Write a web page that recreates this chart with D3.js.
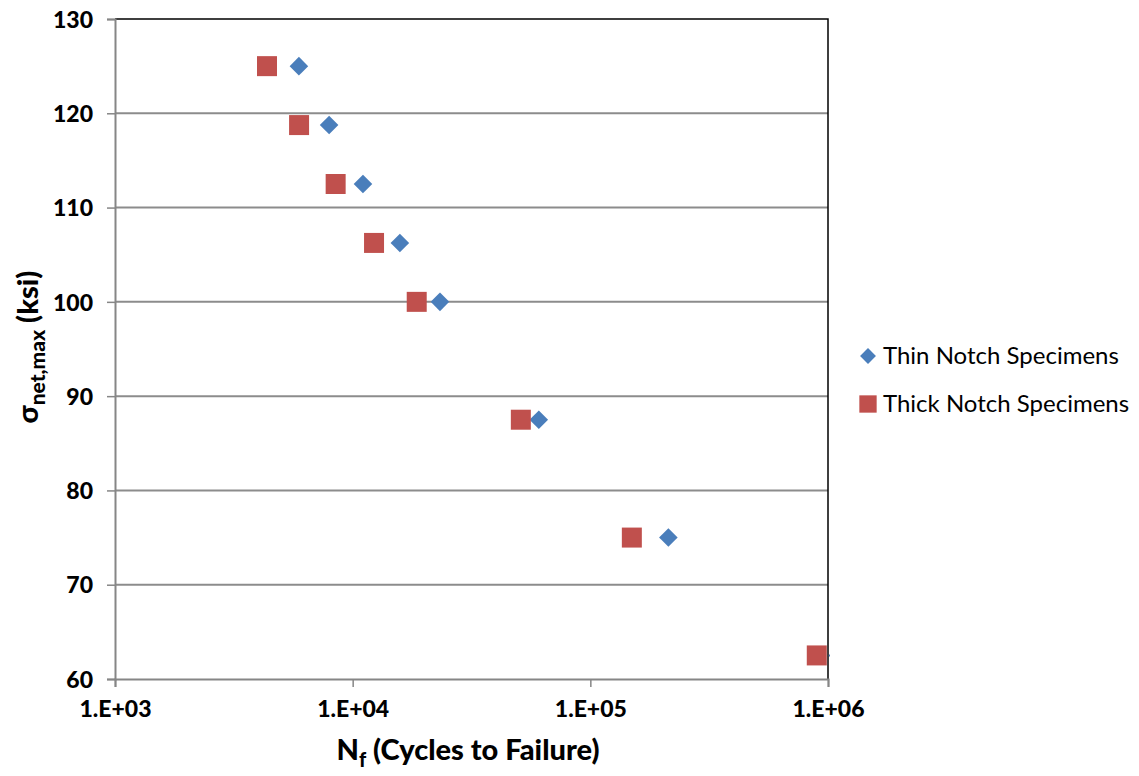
<!DOCTYPE html>
<html>
<head>
<meta charset="utf-8">
<script src="https://cdn.jsdelivr.net/npm/d3@7"></script>
<style>
  html, body { margin: 0; padding: 0; background: #fff; }
  svg { display: block; }
  text { font-family: Lato, "Open Sans", sans-serif; fill: #000; }
</style>
</head>
<body>
<svg id="chart" width="1139" height="776"></svg>
<script>
// S-N data: net maximum stress (ksi) versus cycles to failure
const stressLevels = [125, 118.75, 112.5, 106.25, 100, 87.5, 75, 62.5];
const thinCycles  = [5940, 7960, 11050, 15800, 23300, 60700, 213000, 1100000];
const thickCycles = [4360, 5950, 8480, 12300, 18600, 51000, 149500, 897000];

const xTickValues = [1e3, 1e4, 1e5, 1e6];
const xTickLabels = ["1.E+03", "1.E+04", "1.E+05", "1.E+06"];
const yTickValues = [60, 70, 80, 90, 100, 110, 120, 130];

const seriesNames = ["Thin Notch Specimens", "Thick Notch Specimens"];
const seriesColors = ["#4a7ebb", "#c0504d"];

const plot = { left: 115, right: 828, top: 19, bottom: 679 };

const svg = d3.select("#chart");

const x = d3.scaleLog().domain([1e3, 1e6]).range([plot.left, plot.right]);
const y = d3.scaleLinear().domain([60, 130]).range([plot.bottom, plot.top]);

// horizontal gridlines
svg.append("g")
  .selectAll("line")
  .data(yTickValues.filter(v => v > 60 && v < 130))
  .join("line")
  .attr("x1", plot.left).attr("x2", plot.right)
  .attr("y1", d => y(d)).attr("y2", d => y(d))
  .attr("stroke", "#8c8c8c").attr("stroke-width", 2);

// top and right frame
svg.append("path")
  .attr("d", `M${plot.left},${plot.top}H${plot.right}V${plot.bottom}`)
  .attr("fill", "none").attr("stroke", "#000").attr("stroke-width", 1.5);

// y axis
const yAxis = d3.axisLeft(y).tickValues(yTickValues).tickSize(8).tickPadding(10).tickFormat(d3.format("d"));
const gy = svg.append("g").attr("transform", `translate(${plot.left},0)`).call(yAxis);
gy.select(".domain").attr("stroke", "#868686").attr("stroke-width", 2);
gy.selectAll(".tick line").attr("stroke", "#868686").attr("stroke-width", 1.5);
gy.selectAll(".tick text")
  .style("font-size", "23px").style("font-weight", "900")
  .attr("dy", "0.36em").attr("dx", "-4");

// x axis
const xAxis = d3.axisBottom(x).tickValues(xTickValues).tickSize(8).tickPadding(14)
  .tickFormat((d, i) => xTickLabels[i]);
const gx = svg.append("g").attr("transform", `translate(0,${plot.bottom})`).call(xAxis);
gx.select(".domain").attr("stroke", "#868686").attr("stroke-width", 2);
gx.selectAll(".tick line").attr("stroke", "#868686").attr("stroke-width", 1.5);
gx.selectAll(".tick text")
  .style("font-size", "23px").style("font-weight", "900");

// clip markers to the plotting area
svg.append("clipPath").attr("id", "plotClip")
  .append("rect")
  .attr("x", plot.left).attr("y", plot.top)
  .attr("width", plot.right - plot.left + 2).attr("height", plot.bottom - plot.top);

const marks = svg.append("g").attr("clip-path", "url(#plotClip)");

const diamond = d3.symbol().type(d3.symbolDiamond2).size(220);
const square = d3.symbol().type(d3.symbolSquare).size(400);

// thin-notch specimens (diamonds)
marks.append("g")
  .selectAll("path")
  .data(stressLevels.map((s, i) => ({ n: thinCycles[i], s })))
  .join("path")
  .attr("d", diamond)
  .attr("transform", d => `translate(${x(d.n)},${y(d.s)})`)
  .attr("fill", seriesColors[0]);

// thick-notch specimens (squares)
marks.append("g")
  .selectAll("path")
  .data(stressLevels.map((s, i) => ({ n: thickCycles[i], s })))
  .join("path")
  .attr("d", square)
  .attr("transform", d => `translate(${x(d.n)},${y(d.s)})`)
  .attr("fill", seriesColors[1]);

// axis titles
const xt = svg.append("text")
  .attr("x", 468).attr("y", 760)
  .attr("text-anchor", "middle")
  .style("font-size", "29px").style("font-weight", "900");
xt.append("tspan").text("N");
xt.append("tspan").text("f").attr("dy", 7).style("font-size", "20px");
xt.append("tspan").text(" (Cycles to Failure)").attr("dy", -7);

const yt = svg.append("text")
  .attr("transform", "translate(38,347) rotate(-90)")
  .attr("text-anchor", "middle")
  .style("font-size", "29px").style("font-weight", "900");
yt.append("tspan").text("σ");
yt.append("tspan").text("net,max").attr("dy", 7).style("font-size", "21px");
yt.append("tspan").text(" (ksi)").attr("dy", -7);

// legend
const legend = svg.append("g");
const legendRows = [
  { name: seriesNames[0], color: seriesColors[0], sym: d3.symbol().type(d3.symbolDiamond2).size(160), y: 356 },
  { name: seriesNames[1], color: seriesColors[1], sym: d3.symbol().type(d3.symbolSquare).size(300), y: 404 }
];
legendRows.forEach(r => {
  legend.append("path").attr("d", r.sym()).attr("fill", r.color)
    .attr("transform", `translate(868,${r.y})`);
  legend.append("text").attr("x", 883).attr("y", r.y).attr("dy", "0.35em")
    .style("font-size", "24px").text(r.name);
});
</script>
</body>
</html>
